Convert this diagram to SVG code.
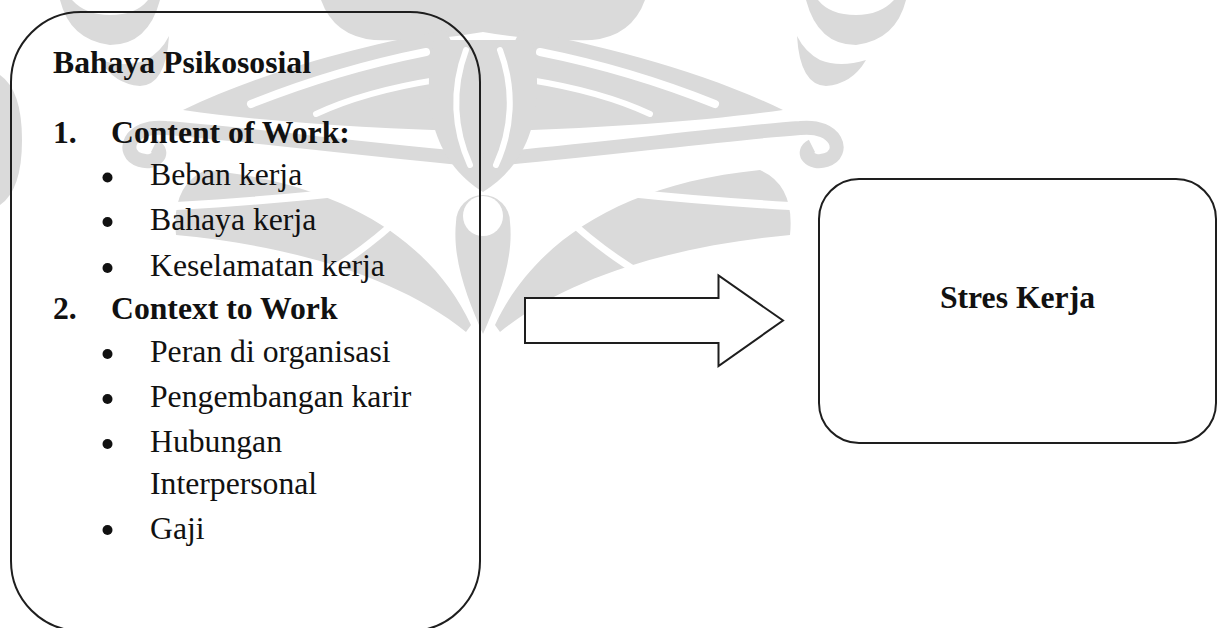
<svg xmlns="http://www.w3.org/2000/svg" width="1222" height="628" viewBox="0 0 1222 628">
<style>
.wm{fill:#dadada;stroke:none}
.wml{fill:none;stroke:#dadada}
.wmw{fill:none;stroke:#ffffff;stroke-linecap:round}
.box{fill:none;stroke:#1e1e1e;stroke-width:2}
.t{font-family:"Liberation Serif","Times New Roman",serif;font-size:31.7px;fill:#111}
.b{font-weight:bold}
.dot{fill:#111}
</style>
<rect width="1222" height="628" fill="#ffffff"/>
<defs>
<g id="half">
<path class="wm" d="M483 0 L645 0 Q632 36 592 40 Q540 42 483 32 Z"/>
<path class="wm" d="M806 0 Q818 45 856 45 Q896 40 906 0 L894 0 Q880 15 856 15 Q830 15 818 0 Z"/>
<path class="wm" d="M797 36 Q800 85 826 86 Q852 84 866 60 Q840 68 820 60 Q805 52 797 36 Z"/>
<path class="wm" d="M520 30 C600 45 700 70 783 110 C700 122 600 128 483 132 L483 75 C500 65 512 50 520 30 Z"/>
<path class="wmw" stroke-width="8" d="M540 52 C600 64 660 82 715 104"/>
<path class="wmw" stroke-width="6" d="M530 80 C580 88 620 100 650 114"/>
<path class="wml" stroke-width="14" d="M483 160 C600 150 720 134 800 128 C838 124 846 154 826 160 C810 165 800 152 812 146"/>
<path class="wm" d="M483 40 L532 40 C545 100 535 160 483 192 Z"/>
<path class="wmw" stroke-width="6" d="M500 50 C515 90 512 130 496 165"/>
<path class="wm" d="M495 325 C530 250 610 185 760 170 Q795 185 790 235 C680 245 570 275 500 332 Z"/>
<path class="wmw" stroke-width="8" d="M520 178 C600 192 690 200 790 206"/>
<path class="wmw" stroke-width="7" d="M560 212 C590 240 620 262 645 276"/>
</g>
</defs>
<g id="watermark">
<use href="#half"/>
<use href="#half" transform="translate(966,0) scale(-1,1)"/>
<path class="wm" d="M483 334 C468 300 452 260 456 222 A27 27 0 1 1 510 222 C514 260 498 300 483 334 Z"/>
<circle cx="483" cy="216" r="20" fill="#ffffff"/>
<path class="wm" d="M0 75 Q22 90 22 140 Q22 190 0 205 Z"/>
</g>
<g id="node-bahaya">
<rect class="box" x="11" y="12" width="469" height="619" rx="70" ry="70"/>
<text class="t b" x="53" y="72.5">Bahaya Psikososial</text>
<text class="t b" x="53" y="142.7">1.</text>
<text class="t b" x="111" y="142.7">Content of Work:</text>
<circle class="dot" cx="107.5" cy="177.5" r="5"/>
<text class="t" x="150" y="185">Beban kerja</text>
<circle class="dot" cx="107.5" cy="222" r="5"/>
<text class="t" x="150" y="230">Bahaya kerja</text>
<circle class="dot" cx="107.5" cy="268" r="5"/>
<text class="t" x="150" y="276">Keselamatan kerja</text>
<text class="t b" x="53" y="318.5">2.</text>
<text class="t b" x="111" y="318.5">Context to Work</text>
<circle class="dot" cx="107.5" cy="354" r="5"/>
<text class="t" x="150" y="362">Peran di organisasi</text>
<circle class="dot" cx="107.5" cy="399" r="5"/>
<text class="t" x="150" y="407">Pengembangan karir</text>
<circle class="dot" cx="107.5" cy="444" r="5"/>
<text class="t" x="150" y="452">Hubungan</text>
<text class="t" x="150" y="494">Interpersonal</text>
<circle class="dot" cx="107.5" cy="530" r="5"/>
<text class="t" x="150" y="538.5">Gaji</text>
</g>
<g id="connectors">
<polygon points="525,298 718.5,298 718.5,275.5 783,320.5 718.5,366 718.5,343 525,343" fill="#ffffff" stroke="#1e1e1e" stroke-width="2" stroke-linejoin="miter"/>
</g>
<g id="node-stres">
<rect class="box" x="819" y="179" width="397" height="264" rx="40" ry="40" fill="#ffffff"/>
<text class="t b" x="1017.5" y="308" text-anchor="middle">Stres Kerja</text>
</g>
</svg>
